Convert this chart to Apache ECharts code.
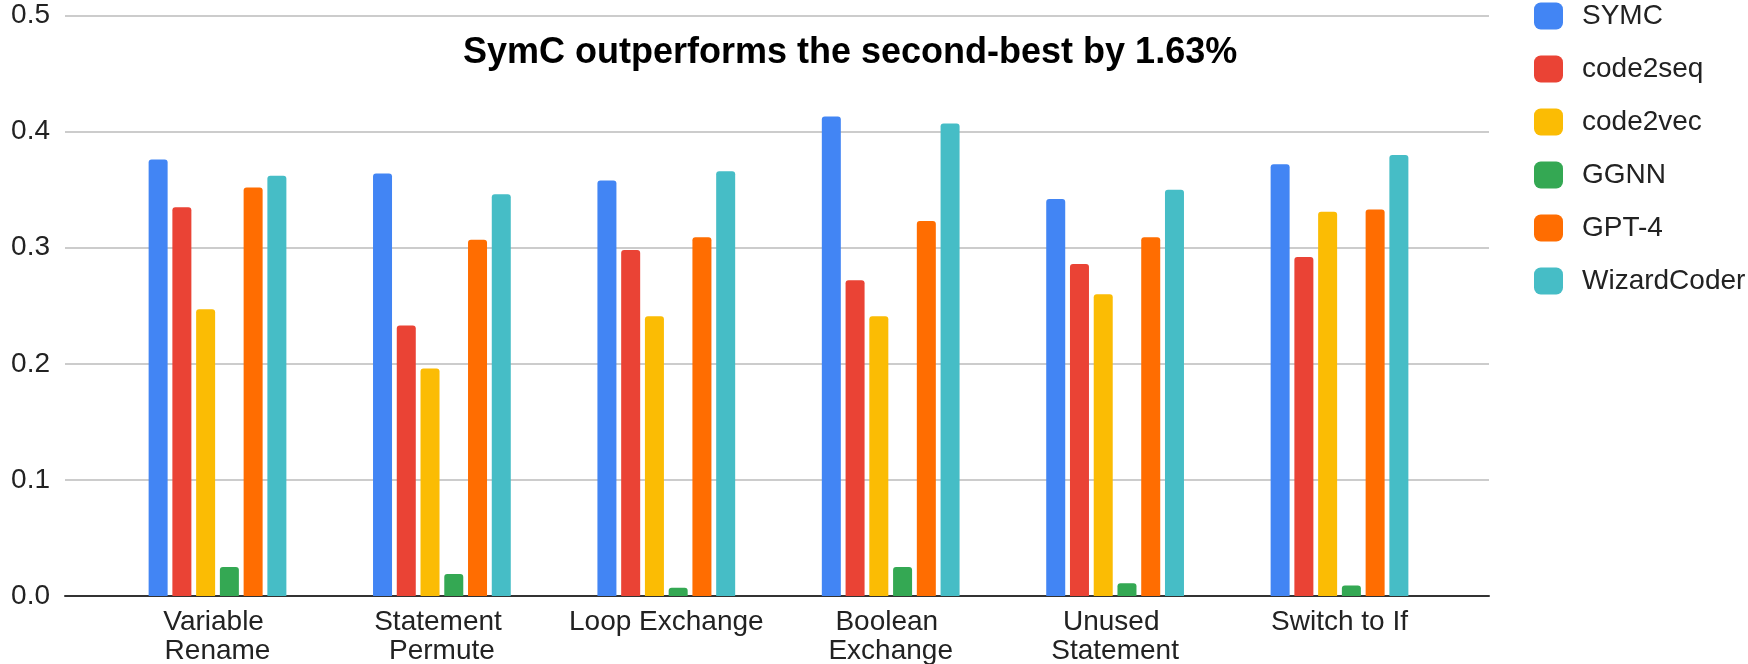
<!DOCTYPE html>
<html>
<head>
<meta charset="utf-8">
<script src="https://cdn.jsdelivr.net/npm/echarts@6/dist/echarts.min.js"></script>
<style>
html,body{margin:0;padding:0;background:#fff;}
#chart{width:1748px;height:664px;}
</style>
</head>
<body>
<div id="chart"></div>
<script>
var titleText = 'SymC outperforms the second-best by 1.63%';
var categories = ['Variable Rename', 'Statement Permute', 'Loop Exchange', 'Boolean Exchange', 'Unused Statement', 'Switch to If'];
var seriesNames = ['SYMC', 'code2seq', 'code2vec', 'GGNN', 'GPT-4', 'WizardCoder'];
var symc        = [0.376, 0.364, 0.358, 0.413, 0.342, 0.372];
var code2seq    = [0.335, 0.233, 0.298, 0.272, 0.286, 0.292];
var code2vec    = [0.247, 0.196, 0.241, 0.241, 0.260, 0.331];
var ggnn        = [0.025, 0.019, 0.007, 0.025, 0.011, 0.009];
var gpt4        = [0.352, 0.307, 0.309, 0.323, 0.309, 0.333];
var wizardCoder = [0.362, 0.346, 0.366, 0.407, 0.350, 0.380];
var yTicks = [0.0, 0.1, 0.2, 0.3, 0.4, 0.5];
var colors = ['#4285F4', '#EA4335', '#FBBC04', '#34A853', '#FF6D01', '#46BDC6'];

var seriesValues = [symc, code2seq, code2vec, ggnn, gpt4, wizardCoder];
var FONT = '"Liberation Sans", Arial, sans-serif';

var chart = echarts.init(document.getElementById('chart'), null, {renderer: 'canvas'});
var series = seriesNames.map(function (name, i) {
  return {
    name: name,
    type: 'bar',
    xAxisIndex: 1,
    yAxisIndex: 1,
    data: seriesValues[i],
    barWidth: 19,
    barGap: '25%',
    itemStyle: {color: colors[i], borderRadius: [3, 3, 0, 0]},
    emphasis: {disabled: true}
  };
});

chart.setOption({
  animation: false,
  color: colors,
  title: {
    text: titleText,
    left: 458,
    top: 30,
    textStyle: {fontFamily: FONT, fontSize: 36, fontWeight: 'bold', color: '#000'}
  },
  legend: {
    orient: 'vertical',
    left: 1534,
    top: 2,
    padding: 0,
    itemWidth: 29,
    itemHeight: 27,
    itemGap: 25,
    icon: 'roundRect',
    data: seriesNames,
    textStyle: {fontFamily: FONT, fontSize: 28, color: '#222', padding: [0, 0, 0, 14]}
  },
  grid: [
    {left: 65, right: 259, top: 15.6, bottom: 68, containLabel: false, outerBoundsMode: 'none'},
    {left: 105.3, right: 296.3, top: 15.6, bottom: 68, containLabel: false, outerBoundsMode: 'none'}
  ],
  xAxis: [
    {
      type: 'category', gridIndex: 0, data: [''],
      axisLine: {show: true, lineStyle: {color: '#333', width: 2}},
      axisTick: {show: false}, axisLabel: {show: false}, splitLine: {show: false}
    },
    {
      type: 'category', gridIndex: 1, data: categories,
      axisLine: {show: false}, axisTick: {show: false}, splitLine: {show: false},
      axisLabel: {
        fontFamily: FONT, fontSize: 28, color: '#222', margin: 12, lineHeight: 29,
        width: 205, overflow: 'break', interval: 0
      }
    }
  ],
  yAxis: [
    {
      type: 'value', gridIndex: 0, min: yTicks[0], max: yTicks[yTicks.length - 1], interval: 0.1,
      axisLine: {show: false}, axisTick: {show: false},
      splitLine: {show: true, lineStyle: {color: '#cccccc', width: 2}},
      axisLabel: {
        fontFamily: FONT, fontSize: 28, color: '#222', margin: 15,
        formatter: function (v) { return v.toFixed(1); }
      }
    },
    {
      type: 'value', gridIndex: 1, min: yTicks[0], max: yTicks[yTicks.length - 1], interval: 0.1,
      show: false, splitLine: {show: false}
    }
  ],
  series: series
});
</script>
</body>
</html>
